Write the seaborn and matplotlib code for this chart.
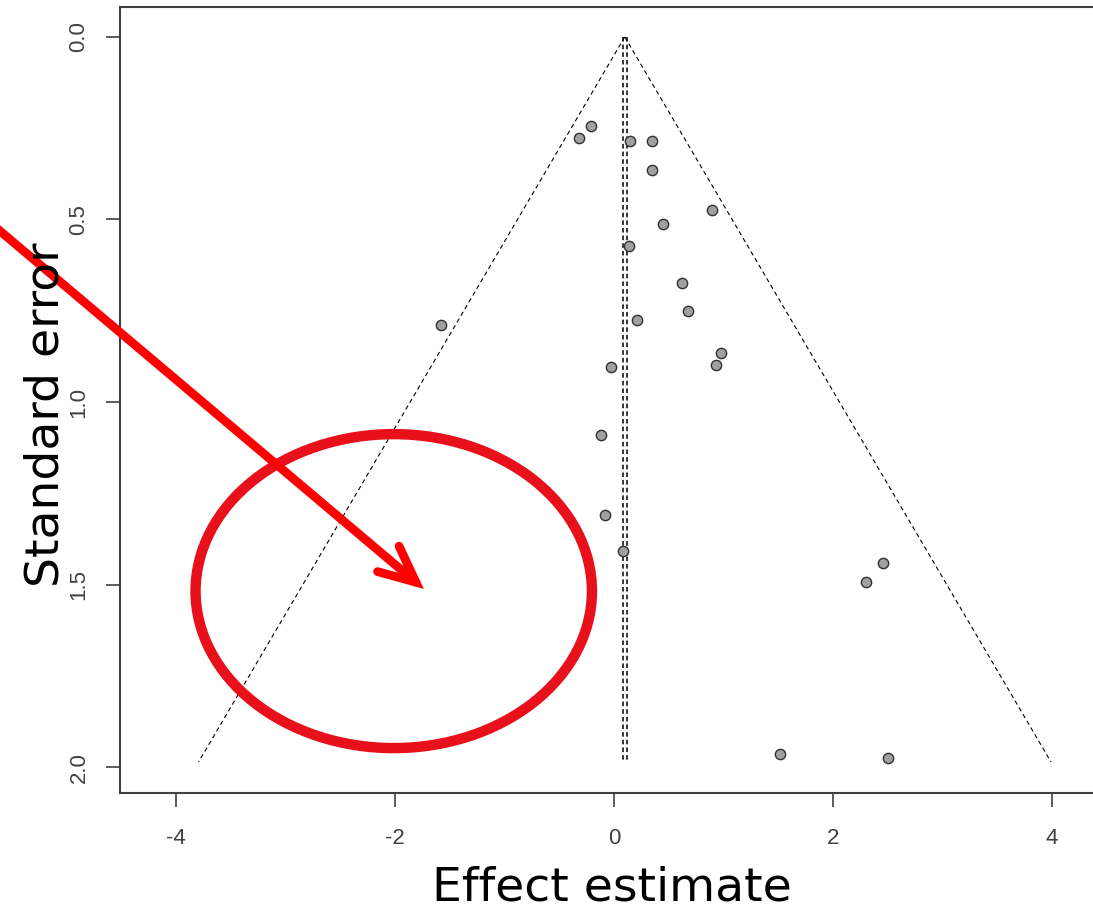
import numpy as np
import pandas as pd
import matplotlib
matplotlib.use("Agg")
import matplotlib.pyplot as plt
from matplotlib.patches import Ellipse
import seaborn as sns

# ---- data ----
effect = [-0.32, -0.21, 0.146, 0.347, 0.347, 0.895, 0.447, 0.137, 0.621, 0.676,
          0.21, -1.58, 0.977, 0.932, -0.027, -0.121, -0.078, 0.082, 2.458, 2.301,
          1.514, 2.50]
std_err = [0.277, 0.244, 0.285, 0.285, 0.364, 0.474, 0.512, 0.573, 0.674, 0.751,
           0.775, 0.789, 0.866, 0.899, 0.904, 1.090, 1.309, 1.407, 1.440, 1.494,
           1.965, 1.974]
pooled = 0.1
se_max = 1.986
x_ticks = [-4, -2, 0, 2, 4]
y_ticks = [0.0, 0.5, 1.0, 1.5, 2.0]
x_label = "Effect estimate"
y_label = "Standard error"

df = pd.DataFrame({"effect": effect, "se": std_err})
funnel = pd.DataFrame({
    "se": [0.0, se_max],
    "lo": [pooled, pooled - 1.96 * se_max],
    "hi": [pooled, pooled + 1.96 * se_max],
})

sns.set_style("white")
plt.rcParams["font.family"] = ["DejaVu Sans"]

W, H = 1093, 913
fig = plt.figure(figsize=(W / 100, H / 100), dpi=100)
# axes in pixel units: left 120, top 7, bottom 793; right spine off-canvas
xlim = (-4.51, 4.70)
px_per_x = 109.5
ax_w = (xlim[1] - xlim[0]) * px_per_x
ax = fig.add_axes([120 / W, (H - 793) / H, ax_w / W, (793 - 7) / H])

# funnel lines
ax.plot(funnel["lo"], funnel["se"], color="black", lw=0.8, ls=(0, (4, 3)))
ax.plot(funnel["hi"], funnel["se"], color="black", lw=0.8, ls=(0, (4, 3)))
# pooled estimate (double dashed)
ax.plot([pooled - 0.012, pooled - 0.012], [0, se_max], color="black", lw=1.1, ls=(0, (3, 2)))
ax.plot([pooled + 0.018, pooled + 0.018], [0, se_max], color="black", lw=1.1, ls=(0, (3, 2)))

sns.scatterplot(data=df, x="effect", y="se", ax=ax, s=55, color="#a0a0a0",
                edgecolor="#303030", linewidth=1.0, zorder=5)

ax.set_xlim(*xlim)
ax.set_ylim(2.071, -0.082)
ax.set_xlabel("")
ax.set_ylabel("")
ax.set_xticks(x_ticks)
ax.set_yticks(y_ticks)
tick_font = dict(fontsize=16, color="#404040", family="Liberation Sans")
ax.set_xticklabels([f"{t:d}" for t in x_ticks], **tick_font)
ax.set_yticklabels([f"{t:.1f}" for t in y_ticks], rotation=90, va="center", **tick_font)
ax.tick_params(axis="both", direction="out", length=10, width=1.2, color="#404040",
               bottom=True, left=True)
ax.tick_params(axis="x", pad=15)
ax.tick_params(axis="y", pad=12)
for side in ["left", "bottom", "top", "right"]:
    ax.spines[side].set_color("#404040")
    ax.spines[side].set_linewidth(1.5)

# axis titles
fig.text(612 / W, 1 - 888 / H, x_label, ha="center", va="center", fontsize=34, color="black")
fig.text(46 / W, 1 - 415 / H, y_label, ha="center", va="center", rotation=90,
         fontsize=34, color="black")

# red annotations (overlay)
ell = Ellipse((-2.01, 1.518), width=3.62, height=0.86, fill=False,
              edgecolor="#e8101a", linewidth=7.5, clip_on=False, zorder=6)
ax.add_patch(ell)
ax.annotate("", xy=(-1.735, 1.512), xytext=(-5.75, 0.495),
            xycoords="data", textcoords="data", annotation_clip=False,
            arrowprops=dict(arrowstyle="->,head_length=26,head_width=12",
                            mutation_scale=1, color="#ff0000", lw=6.3,
                            shrinkA=0, shrinkB=0, capstyle="round",
                            joinstyle="miter", clip_on=False),
            zorder=7)

fig.savefig("out.png", dpi=100)
